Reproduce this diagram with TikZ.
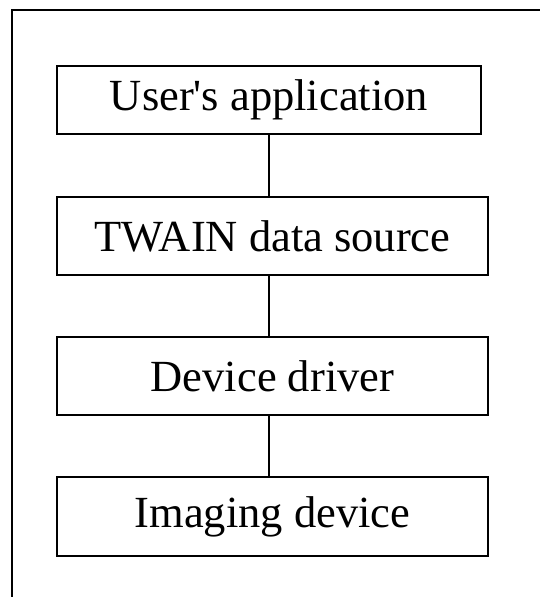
\documentclass[tikz,border=0pt]{standalone}
\usepackage{fontspec}
\setmainfont{Liberation Serif}[Ligatures=TeXOff]
\begin{document}
\begin{tikzpicture}[x=1pt,y=-1pt,
  layer/.style={draw=black,line width=1.2pt,rectangle,inner sep=0pt,
    font=\fontsize{44.5}{54}\selectfont},
  link/.style={draw=black,line width=1.2pt}]
\useasboundingbox (0,0) rectangle (539,597);
% outer frame (only its top and left edges fall inside the page)
\draw[link] (545,10) -- (12,10) -- (12,605);
% layers of the stack
\node[layer,minimum width=424pt,minimum height=68pt] (app) at (269,100) {User's application};
\node[layer,minimum width=431pt,minimum height=78pt] (src) at (272.5,236) {TWAIN data source};
\node[layer,minimum width=431pt,minimum height=78pt] (drv) at (272.5,376) {Device driver};
\node[layer,minimum width=431pt,minimum height=79pt] (dev) at (272.5,516.5) {Imaging device};
% connectors
\draw[link] (app.south) -- (app.south |- src.north);
\draw[link] (app.south |- src.south) -- (app.south |- drv.north);
\draw[link] (app.south |- drv.south) -- (app.south |- dev.north);
\end{tikzpicture}
\end{document}
